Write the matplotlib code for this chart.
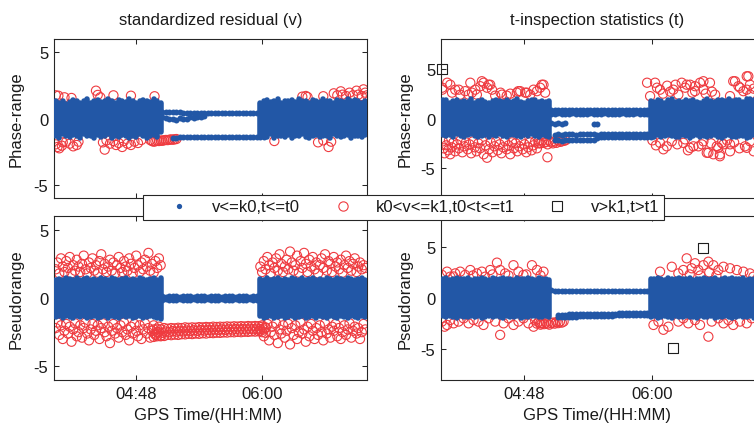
import numpy as np
import matplotlib
matplotlib.use("Agg")
import matplotlib.pyplot as plt
from matplotlib.lines import Line2D

plt.rcParams['font.family'] = ['Liberation Sans', 'DejaVu Sans']

# ---------------- axis labels / ticks ----------------
col_titles = ["standardized residual (v)", "t-inspection statistics (t)"]
row_labels = ["Phase-range", "Pseudorange"]
x_label = "GPS Time/(HH:MM)"
x_tick_min = [288, 360]
x_tick_lab = ["04:48", "06:00"]
y_ticks = [-5, 0, 5]
legend_labels = ["v<=k0,t<=t0", "k0<v<=k1,t0<t<=t1", "v>k1,t>t1"]

# time in minutes after 00:00 ; blue bands: (low, high) per 2-min epoch
SEG1_START, SEG2_START = 242, 359

A_seg1 = [(-1.30,1.30),(-1.45,1.20),(-1.20,1.35),(-1.35,1.10),(-1.40,1.25),(-1.25,1.40),(-1.30,1.30),(-1.50,1.15),(-1.20,1.35),(-1.35,1.45),
          (-1.30,1.20),(-1.45,1.30),(-1.25,1.40),(-1.40,1.25),(-1.35,1.35),(-1.20,1.50),(-1.45,1.30),(-1.30,1.20),(-1.40,1.40),(-1.25,1.35),
          (-1.35,1.25),(-1.50,1.45),(-1.30,1.30),(-1.40,1.20),(-1.20,1.35),(-1.35,1.40),(-1.45,1.30),(-1.30,1.25),(-1.25,1.45),(-1.40,1.35),(-1.05,1.20)]
A_seg2 = [(-1.25,1.20),(-1.30,1.35),(-1.40,1.40),(-1.20,1.25),(-1.45,1.30),(-1.35,1.45),(-1.30,1.20),(-1.40,1.35),(-1.25,1.30),(-1.50,1.40),
          (-1.30,1.25),(-1.35,1.50),(-1.20,1.30),(-1.40,1.35),(-1.45,1.20),(-1.30,1.40),(-1.25,1.30),(-1.40,1.25),(-1.35,1.45),(-1.30,1.35),
          (-1.45,1.30),(-1.20,1.20),(-1.35,1.40),(-1.40,1.35),(-1.30,1.25),(-1.25,1.45),(-1.45,1.30),(-1.35,1.40),(-1.30,1.35),(-1.40,1.20),(-1.25,1.30)]
B_seg1 = [(-1.40,1.35),(-1.35,1.40),(-1.45,1.30),(-1.30,1.45),(-1.40,1.40),(-1.45,1.35),(-1.35,1.45),(-1.40,1.30),(-1.30,1.40),(-1.45,1.45),
          (-1.40,1.35),(-1.35,1.40),(-1.45,1.30),(-1.40,1.45),(-1.30,1.40),(-1.45,1.35),(-1.35,1.45),(-1.40,1.40),(-1.45,1.30),(-1.30,1.40),
          (-1.40,1.45),(-1.35,1.35),(-1.45,1.40),(-1.40,1.30),(-1.30,1.45),(-1.45,1.40),(-1.40,1.35),(-1.35,1.40),(-1.40,1.45),(-1.45,1.30),(-1.50,1.50)]
B_seg2 = [(-1.35,1.40),(-1.45,1.30),(-1.40,1.45),(-1.30,1.35),(-1.45,1.40),(-1.40,1.45),(-1.35,1.30),(-1.45,1.40),(-1.40,1.35),(-1.30,1.45),
          (-1.45,1.40),(-1.40,1.30),(-1.35,1.45),(-1.45,1.35),(-1.40,1.40),(-1.30,1.45),(-1.45,1.35),(-1.35,1.40),(-1.40,1.30),(-1.45,1.45),
          (-1.35,1.40),(-1.40,1.35),(-1.45,1.45),(-1.30,1.40),(-1.40,1.30),(-1.45,1.45),(-1.35,1.40),(-1.40,1.35),(-1.45,1.40),(-1.35,1.45),(-1.40,1.35)]
C_seg1 = [(-1.65,1.90),(-1.80,1.85),(-1.70,1.60),(-1.90,1.75),(-1.60,1.90),(-1.75,1.65),(-1.85,1.80),(-1.70,1.70),(-1.60,1.95),(-1.80,1.60),
          (-1.90,1.75),(-1.75,1.85),(-1.65,1.70),(-1.85,1.60),(-1.70,1.80),(-1.80,1.90),(-1.60,1.75),(-1.75,1.65),(-1.90,1.85),(-1.70,1.70),
          (-1.65,1.80),(-1.80,1.95),(-1.85,1.70),(-1.70,1.60),(-1.75,1.75),(-1.60,1.85),(-1.80,1.90),(-1.90,1.70),(-1.70,1.80),(-1.75,1.65),(-1.85,1.75)]
C_seg2 = [(-1.75,1.80),(-1.85,1.70),(-1.70,1.90),(-1.90,1.75),(-1.80,1.60),(-1.65,1.85),(-1.75,1.95),(-1.90,1.70),(-1.85,1.80),(-1.70,1.65),
          (-1.80,1.90),(-1.95,1.75),(-1.75,1.85),(-1.70,1.70),(-1.85,1.60),(-1.80,1.80),(-1.90,1.95),(-1.75,1.75),(-1.70,1.70),(-1.85,1.85),
          (-1.95,1.90),(-1.80,1.80),(-1.70,2.00),(-1.85,1.75),(-1.90,1.85),(-1.75,1.90),(-1.80,1.70),(-1.95,1.95),(-1.85,2.00),(-1.70,1.85),(-1.80,1.90)]
D_seg1 = [(-1.80,1.85),(-1.90,1.95),(-1.75,1.80),(-1.85,1.90),(-1.95,2.00),(-1.80,1.85),(-1.90,1.90),(-1.85,1.95),(-1.75,1.80),(-1.90,1.90),
          (-1.80,1.85),(-1.95,2.00),(-1.85,1.90),(-1.80,1.80),(-1.90,1.95),(-1.75,1.85),(-1.85,1.90),(-1.95,2.00),(-1.80,1.85),(-1.90,1.90),
          (-1.85,1.80),(-1.80,1.95),(-1.95,1.90),(-1.85,1.85),(-1.90,2.00),(-1.80,1.90),(-1.75,1.80),(-1.90,1.95),(-1.85,1.85),(-1.80,1.90),(-1.90,1.80)]
D_seg2 = [(-1.85,1.90),(-1.80,1.85),(-1.95,2.00),(-1.90,1.90),(-1.80,1.80),(-1.85,1.95),(-1.95,1.85),(-1.80,1.90),(-1.90,2.00),(-1.85,1.85),
          (-1.75,1.90),(-1.90,1.95),(-1.85,1.80),(-1.95,1.90),(-1.80,1.85),(-1.90,2.00),(-1.85,1.90),(-1.80,1.85),(-1.95,1.95),(-1.85,1.80),
          (-1.90,1.90),(-1.80,1.95),(-1.85,1.85),(-1.95,2.00),(-1.90,1.90),(-1.80,1.85),(-1.85,1.95),(-1.90,1.80),(-1.80,1.90),(-1.95,1.85),(-1.85,1.90)]

# quiet-period blue traces: (start minute, values every 2 min)
A_mid = [(303, [0.52,0.50,0.48,0.47,0.46,0.46,0.45,0.45,0.44,0.45,0.44,0.44,0.43,0.44,0.44,0.43,0.43,0.44,0.43,0.43,0.42,0.43,0.43,0.42,0.42,0.43,0.42,0.42,0.42]),
         (303, [0.10,0.05,-0.05,0.00,-0.10,0.05,0.00,-0.05,0.10,0.05,0.15,0.10,0.20]),
         (309, [-1.44,-1.44,-1.43,-1.43,-1.43,-1.42,-1.42,-1.42,-1.41,-1.41,-1.41,-1.41,-1.40,-1.40,-1.40,-1.40,-1.40,-1.39,-1.39,-1.39,-1.39,-1.39,-1.38,-1.38,-1.38,-1.38,-1.38])]
B_mid = [(303, [0.12,0.10,0.13,0.11,0.12,0.10,0.12,0.11,0.13,0.10,0.12,0.11,0.12,0.10,0.13,0.11,0.12,0.10,0.12,0.11,0.13,0.10,0.12,0.11,0.12,0.10,0.13,0.11,0.12]),
         (303, [-0.12,-0.10,-0.13,-0.11,-0.12,-0.10,-0.12,-0.11,-0.13,-0.10,-0.12,-0.11,-0.12,-0.10,-0.13,-0.11,-0.12,-0.10,-0.12,-0.11,-0.13,-0.10,-0.12,-0.11,-0.12,-0.10,-0.13,-0.11,-0.12])]
C_mid = [(303, [0.90,0.85,0.88,0.82,0.86,0.84,0.87,0.83,0.85,0.86,0.82,0.85,0.84,0.87,0.83,0.85,0.86,0.84,0.82,0.85,0.87,0.83,0.84,0.86,0.85,0.83,0.84,0.86,0.85]),
         (303, [0.50,0.48,0.52,0.47,0.50,0.49,0.51,0.48,0.50,0.47,0.49,0.52,0.48,0.50,0.49,0.51,0.47,0.50,0.48,0.50,0.52,0.49,0.48,0.50,0.51,0.48,0.50,0.49,0.50]),
         (305, [-1.62,-1.60,-1.63,-1.58,-1.61,-1.60,-1.62,-1.59,-1.60,-1.61,-1.58,-1.60,-1.62,-1.59,-1.60,-1.61,-1.58,-1.60,-1.59,-1.61,-1.60,-1.58,-1.60,-1.59,-1.61,-1.60,-1.58,-1.60]),
         (305, [-2.20,-2.15,-2.22,-2.16,-2.20,-2.18,-2.15,-2.20,-2.16,-2.18,-2.15,-2.20,-1.92,-1.90,-1.88,-1.90,-1.87,-1.90,-1.88,-1.86,-1.88,-1.85,-1.87,-1.85,-1.86,-1.84,-1.85,-1.85])]
C_mid_pts = [(303,-0.50),(305,-0.60),(307,-0.42),(309,-0.55),(311,-0.45),(327,-0.55),(329,-0.60)]
D_mid = [(303, [0.74,0.72,0.70,0.72,0.71,0.70,0.72,0.70,0.71,0.69,0.70,0.71,0.69,0.70,0.68,0.70,0.69,0.68,0.70,0.68,0.69,0.67,0.68,0.69,0.67,0.68,0.66,0.68,0.67]),
         (307, [-1.62,-1.62,-1.61,-1.60,-1.60,-1.59,-1.58,-1.58,-1.57,-1.56,-1.56,-1.55,-1.54,-1.54,-1.53,-1.52,-1.52,-1.51,-1.50,-1.50,-1.49,-1.48,-1.48,-1.47,-1.46,-1.46,-1.45]),
         (307, [-1.86,-1.85,-1.84,-1.83,-1.82,-1.81,-1.80,-1.79,-1.78,-1.77,-1.76,-1.75,-1.74,-1.73,-1.72,-1.71,-1.70,-1.69,-1.68,-1.67,-1.66,-1.65,-1.64,-1.63,-1.62,-1.61,-1.60])]

# red k0<v<=k1 points
A_red = [(242,1.75),(243.5,1.72),(247,1.60),(251,1.55),(265,2.10),(266,1.78),(267.5,1.60),(275,1.75),(285,1.72),(298.5,1.68),
         (242,-1.95),(243,-2.15),(244,-2.25),(245.5,-2.05),(246,-1.80),(248,-1.75),(250,-1.90),(252,-2.10),(254,-2.00),(255,-1.75),
         (270,-2.35),(269,-1.80),(271,-1.65),(273,-1.90),(275,-1.70),(276.5,-2.00),(278,-1.85),(280,-2.15),(281,-1.70),(283,-1.90),
         (285,-2.00),(287,-1.75),(289,-1.85),(291,-1.62),
         (367,-1.70),(392,-1.80),(395,-1.65),(398,-2.15),(399.5,-1.75),
         (383,1.65),(385,1.70),(386,1.62),(395,1.68),(401,1.90),(403,1.75),(405,2.05),(406,1.80),(408,1.70),(410,1.95),
         (412,1.75),(414,2.10),(415,1.80),(417,1.70),(418,2.20),(419,1.95),(420,1.75)]
A_red_tail = (296, [-1.62,-1.70,-1.75,-1.72,-1.68,-1.70,-1.66,-1.68,-1.64,-1.62,-1.63,-1.60,-1.58,-1.60,-1.57,-1.55])

B_red_up1 = [2.1,2.6,1.8,2.9,2.3,1.9,2.7,2.2,3.0,1.8,2.4,2.0,2.8,2.3,1.9,2.5,3.1,2.1,1.8,2.6,2.2,2.9,2.0,2.4,1.85,2.7,3.2,2.1,2.5,1.9,
             2.3,2.8,2.0,2.6,1.8,2.4,3.0,2.2,1.9,2.7,2.3,2.0,2.9,2.5,1.8,2.2,3.1,2.4,1.9,2.6,2.1,2.8,2.3,3.3,2.0,2.5,1.85,2.7,2.2,2.9,2.4]
B_red_up2 = [2.3,1.9,2.7,2.1,3.0,2.4,1.8,2.6,2.2,2.9,2.0,3.2,2.5,1.9,2.3,2.8,2.1,3.4,2.6,2.0,2.4,3.1,1.85,2.7,2.2,3.3,2.5,1.9,2.8,2.3,
             3.0,2.1,2.6,1.8,2.4,2.9,2.2,3.2,2.0,2.7,2.5,1.9,3.0,2.3,2.6,2.1,2.8,1.85,2.4,3.1,2.2,2.7,2.0,2.5,2.9,1.9,2.3,2.6,2.1,2.4,2.2]
B_red_dn1 = [-2.2,-1.8,-2.7,-2.0,-3.0,-2.4,-1.9,-2.6,-2.1,-3.2,-2.3,-1.85,-2.8,-2.5,-2.0,-2.9,-2.2,-1.8,-2.6,-3.1,-2.3,-1.9,-2.7,-2.4,-2.0,-3.0,-2.2,-1.85,-2.5,-2.8,
             -2.1,-3.3,-2.4,-1.9,-2.6,-2.2,-2.9,-2.0,-2.5,-1.8,-2.7,-2.3,-3.1,-2.1,-2.6,-1.9,-2.4,-2.8,-2.0,-3.0,-2.3,-1.85,-2.6,-2.2,-2.9,-2.4,-2.0,-2.7,-2.5,-2.1,-2.8]
B_red_dn2 = [-2.4,-2.0,-2.8,-2.2,-1.9,-3.1,-2.5,-2.1,-2.7,-1.85,-3.3,-2.3,-2.6,-2.0,-2.9,-2.4,-1.9,-3.4,-2.2,-2.7,-2.0,-3.0,-2.5,-1.8,-2.6,-2.3,-3.2,-2.1,-2.8,-1.9,
             -2.4,-3.0,-2.2,-2.7,-2.0,-2.5,-3.1,-1.85,-2.6,-2.3,-2.9,-2.1,-2.4,-1.9,-2.8,-2.2,-3.0,-2.5,-2.0,-2.7,-2.3,-1.85,-2.9,-2.4,-2.1,-2.6,-2.2,-3.0,-2.5,-1.9,-2.3]
B_red_mid = [(298, [-2.30,-2.25,-2.30,-2.20,-2.25,-2.20,-2.22,-2.18,-2.20,-2.15,-2.18,-2.15,-2.17,-2.13,-2.15,-2.12,-2.14,-2.10,-2.12,-2.10,-2.11,-2.08,-2.10,-2.07,-2.09,-2.06,-2.08,-2.05,-2.07,-2.05,-2.06,-2.10,-2.15]),
             (299, [-2.60,-2.50,-2.55,-2.45,-2.50,-2.42,-2.46,-2.40,-2.44,-2.38,-2.42,-2.36,-2.40,-2.34,-2.38,-2.33,-2.36,-2.31,-2.34,-2.30,-2.33,-2.29,-2.31,-2.27,-2.30,-2.27,-2.29,-2.25,-2.28,-2.25,-2.27,-2.30]),
             (298, [-2.85,-2.80,-2.75,-2.78,-2.70,-2.72,-2.68,-2.70,-2.65,-2.66,-2.62,-2.64,-2.60,-2.62,-2.58,-2.60,-2.56,-2.57,-2.54,-2.55,-2.52,-2.53,-2.50,-2.51,-2.48,-2.50,-2.47,-2.48,-2.45,-2.46,-2.44,-2.50,-2.55])]

C_red = [(241.7,2.9),(241.7,3.1),(244.5,3.6),(246.2,3.4),(247.2,2.6),(249,2.9),(251,2.9),(251.8,2.4),(254.6,2.75),(256.5,2.4),
         (257.5,3.6),(258.4,2.6),(260.3,2.9),(261.2,2.4),(263.1,3.25),(264,3.75),(265,3.6),(266.9,3.1),(267.8,3.4),(268.7,3.4),
         (269.7,2.9),(271.5,2.3),(274.5,2.6),(275.3,2.4),(278,2.3),(280,2.5),(283.7,2.6),(284.5,2.75),(285.6,2.75),(288.4,2.6),
         (289.3,2.6),(291.2,2.4),(293.1,2.9),(295,2.75),(296.8,3.1),(297.8,3.4),(298.7,3.4),(299.6,2.6),
         (242,-2.3),(242.5,-3.0),(243,-3.5),(244,-2.7),(245,-3.2),(245.5,-2.2),(246.2,-3.6),(247,-2.9),(248,-2.4),(249,-3.3),
         (250,-2.6),(251,-3.0),(252,-2.2),(253,-3.4),(254,-2.8),(255,-2.4),(256,-3.1),(257,-2.6),(258,-3.5),(259,-2.3),
         (260,-2.9),(261,-3.3),(262,-2.5),(263,-3.0),(264,-2.2),(265,-3.6),(266,-2.7),(266.9,-3.95),(268,-3.1),(269,-2.4),
         (270,-3.4),(271,-2.8),(272,-2.3),(273,-3.2),(274,-2.6),(275,-3.5),(276,-2.9),(277,-2.3),(278,-3.1),(279,-2.7),
         (280,-3.6),(281,-2.4),(282,-3.0),(283,-2.5),(284,-3.3),(285,-2.8),(286,-2.2),(287,-3.1),(288,-2.6),(289,-3.4),
         (290,-2.9),(291,-2.4),(292,-3.2),(293,-2.7),(294,-2.3),(295,-3.0),(296,-2.5),(300.9,-3.9),
         (357,3.6),(358.7,2.25),(361.5,3.6),(362.6,3.1),(364.3,2.9),(366,2.5),(368.3,3.3),(370,2.7),(371.8,2.9),(373,3.4),
         (374.6,2.4),(376.5,3.6),(378.4,3.1),(379.3,3.4),(381.2,3.4),(382.5,2.6),(384,2.75),(384,3.25),(386.8,3.6),(388.7,2.9),
         (388.7,3.75),(390,2.5),(392.4,3.6),(393.5,2.7),(395.3,2.4),(403.7,2.25),(405.5,3.75),(406.5,3.75),(408.4,3.25),(409.3,3.1),
         (411.2,2.75),(413.1,4.25),(413.1,2.9),(414,4.25),(414.9,3.4),(415,2.4),(417,3.0),
         (360,-2.2),(362,-2.7),(364.3,-2.45),(366.2,-3.1),(368.1,-2.8),(370.9,-2.3),(374,-2.6),(377.4,-2.45),(378.4,-2.1),(380,-3.2),
         (381.2,-2.95),(383.1,-2.8),(385.9,-2.8),(387.8,-2.6),(388.7,-2.3),(390.6,-3.45),(391.5,-3.45),(393,-2.5),(394.3,-3.6),(396.2,-2.8),
         (397.1,-2.95),(398,-3.8),(398,-3.6),(399,-2.45),(400,-2.6),(402,-2.2),(403.7,-3.3),(403.7,-2.6),(406,-2.4),(409,-3.0),
         (412.1,-2.8),(413.1,-2.95),(415,-2.3),(417,-3.3)]
C_red_tail = (296, [-2.30,-2.50,-2.20,-2.45,-2.35,-2.60,-2.25,-2.40,-2.50,-2.30,-2.45,-2.20,-2.35,-2.30,-2.25,-2.20])

D_red = [(241.5,2.25),(244.4,2.57),(246.2,2.08),(248,2.1),(249,2.4),(251.8,2.57),(254.6,2.25),(257.5,2.73),(259,2.2),(261.2,2.4),
         (264,2.57),(265.9,2.08),(268.7,2.73),(270,2.3),(272.5,3.45),(274.3,2.73),(277.1,2.4),(279,2.2),(281.8,3.2),(284.6,2.57),
         (287.4,2.25),(289,2.3),(292.2,3.2),(295,2.73),(297,2.2),(298.7,2.57),
         (241.5,-2.3),(243,-2.8),(244.4,-2.63),(246.2,-2.15),(248.1,-2.47),(250.9,-2.3),(253.7,-1.98),(256.5,-2.47),(259.3,-2.15),(262.1,-2.3),
         (264.9,-2.63),(267.8,-1.98),(271.5,-2.3),(274.3,-3.6),(276.2,-2.47),(279,-1.98),(281.8,-2.63),(284.6,-2.3),(287.4,-1.98),(290.2,-2.47),
         (293.1,-2.8),(296.8,-2.47),
         (364.3,2.57),(370.9,3.05),(374.6,2.4),(377.4,2.73),(379.3,3.87),(381,2.3),(382.1,2.9),(384,3.39),(385.9,2.73),(387,2.2),
         (388.7,3.2),(391.5,3.54),(392,2.5),(394.3,3.2),(396,2.2),(397.1,2.73),(400,3.05),(403.7,2.9),(407.5,2.73),(411.2,2.57),
         (414.9,2.4),(416.8,2.08),
         (360.6,-2.63),(363.4,-2.3),(366.2,-3.1),(369,-2.8),(374.6,-2.3),(377.4,-1.98),(380.2,-2.47),(384,-2.15),(386.8,-2.63),(391.5,-3.77),
         (393.4,-2.3),(397.1,-1.98),(400,-2.47),(402.8,-2.15),(405.5,-2.63),(409.3,-2.3),(413.1,-2.47),(415.9,-1.98)]
D_red_tail = (294, [-2.20,-2.50,-2.35,-2.60,-2.45,-2.55,-2.40,-2.50,-2.60,-2.45,-2.40,-2.50,-2.35,-2.45,-2.30,-2.40,-2.30])

# black v>k1,t>t1 points
C_sq = [(241.5, 5.0)]
D_sq = [(371.8, -4.9), (388.7, 4.85)]

# ---------------- styling ----------------
BLUE = '#2257a6'
RED = '#ef3b40'
SQC = '#1e1e1e'
SPINE = '#262626'
BAND_LW = 4.0          # points
DOT_S = 4.3 ** 2
CIRC_S = 6.6 ** 2
CIRC_LW = 0.8
SQ_S = 7.2 ** 2
FS = 12

W, H = 754, 427
fig = plt.figure(figsize=(W / 100, H / 100), dpi=100)

def fr(x0, y0, x1, y1):
    return [x0 / W, 1 - y1 / H, (x1 - x0) / W, (y1 - y0) / H]

axA = fig.add_axes(fr(54, 40, 367, 199))
axB = fig.add_axes(fr(54, 217, 367, 381))
axC = fig.add_axes(fr(441, 40, 759, 199))
axD = fig.add_axes(fr(441, 217, 759, 381))


def band(ax, start, pairs, step=2):
    t = start + step * np.arange(len(pairs))
    lo = [p[0] for p in pairs]
    hi = [p[1] for p in pairs]
    lc = ax.vlines(t, lo, hi, colors=BLUE, linewidth=BAND_LW, zorder=3)
    lc.set_capstyle('round')


def trace(ax, start, vals, step=2, kind='blue'):
    t = start + step * np.arange(len(vals))
    if kind == 'blue':
        ax.scatter(t, vals, s=DOT_S, color=BLUE, linewidths=0, zorder=3)
    else:
        ax.scatter(t, vals, s=CIRC_S, facecolors='none', edgecolors=RED, linewidths=CIRC_LW, zorder=2)


def red_pts(ax, pts):
    ax.scatter([p[0] for p in pts], [p[1] for p in pts], s=CIRC_S, facecolors='none',
               edgecolors=RED, linewidths=CIRC_LW, zorder=2)


def sq_pts(ax, pts):
    ax.scatter([p[0] for p in pts], [p[1] for p in pts], s=SQ_S, marker='s', facecolors='none',
               edgecolors=SQC, linewidths=0.8, zorder=6, clip_on=False)


# panel A
band(axA, SEG1_START, A_seg1); band(axA, SEG2_START, A_seg2)
for s, v in A_mid:
    trace(axA, s, v)
red_pts(axA, A_red)
trace(axA, A_red_tail[0], A_red_tail[1], step=1, kind='red')

# panel B
band(axB, SEG1_START, B_seg1); band(axB, SEG2_START, B_seg2)
for s, v in B_mid:
    trace(axB, s, v)
trace(axB, SEG1_START, B_red_up1, step=1, kind='red')
trace(axB, SEG2_START, B_red_up2, step=1, kind='red')
trace(axB, SEG1_START, B_red_dn1, step=1, kind='red')
trace(axB, SEG2_START, B_red_dn2, step=1, kind='red')
for s, v in B_red_mid:
    trace(axB, s, v, kind='red')

# panel C
band(axC, SEG1_START, C_seg1); band(axC, SEG2_START, C_seg2)
for s, v in C_mid:
    trace(axC, s, v)
axC.scatter([p[0] for p in C_mid_pts], [p[1] for p in C_mid_pts], s=DOT_S, color=BLUE, linewidths=0, zorder=3)
red_pts(axC, C_red)
trace(axC, C_red_tail[0], C_red_tail[1], step=1, kind='red')
sq_pts(axC, C_sq)

# panel D
band(axD, SEG1_START, D_seg1); band(axD, SEG2_START, D_seg2)
for s, v in D_mid:
    trace(axD, s, v)
red_pts(axD, D_red)
trace(axD, D_red_tail[0], D_red_tail[1], step=1, kind='red')
sq_pts(axD, D_sq)

# axes formatting
for ax, ylim in [(axA, 6), (axB, 6), (axC, 8), (axD, 8)]:
    ax.set_xlim(241, 420)
    ax.set_ylim(-ylim, ylim)
    ax.set_xticks(x_tick_min)
    ax.set_yticks(y_ticks)
    ax.set_yticklabels([str(v) for v in y_ticks])
    ax.tick_params(direction='in', top=True, right=True, length=3.5, width=0.75,
                   color=SPINE, labelsize=FS, labelcolor='#1a1a1a')
    ax.tick_params(axis='x', pad=4)
    ax.tick_params(axis='y', pad=4)
    for sp in ax.spines.values():
        sp.set_color(SPINE)
        sp.set_linewidth(0.8)

for ax in (axA, axC):
    ax.set_xticklabels([])
for ax in (axB, axD):
    ax.set_xticklabels(x_tick_lab)
    ax.set_xlabel(x_label, fontsize=FS, color='#1a1a1a')
axB.xaxis.set_label_coords(0.492, -0.165)
axD.xaxis.set_label_coords(0.492, -0.165)

axA.set_ylabel(row_labels[0], fontsize=FS, color='#1a1a1a')
axB.set_ylabel(row_labels[1], fontsize=FS, color='#1a1a1a')
axC.set_ylabel(row_labels[0], fontsize=FS, color='#1a1a1a')
axD.set_ylabel(row_labels[1], fontsize=FS, color='#1a1a1a')
axA.yaxis.set_label_coords(-0.096, 0.5)
axB.yaxis.set_label_coords(-0.096, 0.5)
axC.yaxis.set_label_coords(-0.088, 0.5)
axD.yaxis.set_label_coords(-0.088, 0.5)

fig.text(210.5 / W, 1 - 25 / H, col_titles[0], ha='center', va='baseline', fontsize=FS, color='#1a1a1a')
fig.text(597 / W, 1 - 25 / H, col_titles[1], ha='center', va='baseline', fontsize=FS, color='#1a1a1a')

handles = [Line2D([], [], ls='none', marker='o', color=BLUE, markersize=3.8, markeredgewidth=0),
           Line2D([], [], ls='none', marker='o', markerfacecolor='none', markeredgecolor=RED, markersize=6.7, markeredgewidth=0.8),
           Line2D([], [], ls='none', marker='s', markerfacecolor='none', markeredgecolor=SQC, markersize=7.0, markeredgewidth=0.8)]
leg = fig.legend(handles, legend_labels, loc='center', bbox_to_anchor=(403.5 / W, 1 - 208 / H),
                 ncol=3, fontsize=FS, frameon=True, fancybox=False, borderpad=0.3,
                 handlelength=3.7, handletextpad=0.15, columnspacing=0.7, borderaxespad=0)
leg.get_frame().set_edgecolor(SPINE)
leg.get_frame().set_linewidth(0.8)
leg.get_frame().set_alpha(1)
for txt in leg.get_texts():
    txt.set_color('#1a1a1a')

fig.savefig('out.png', dpi=100)
